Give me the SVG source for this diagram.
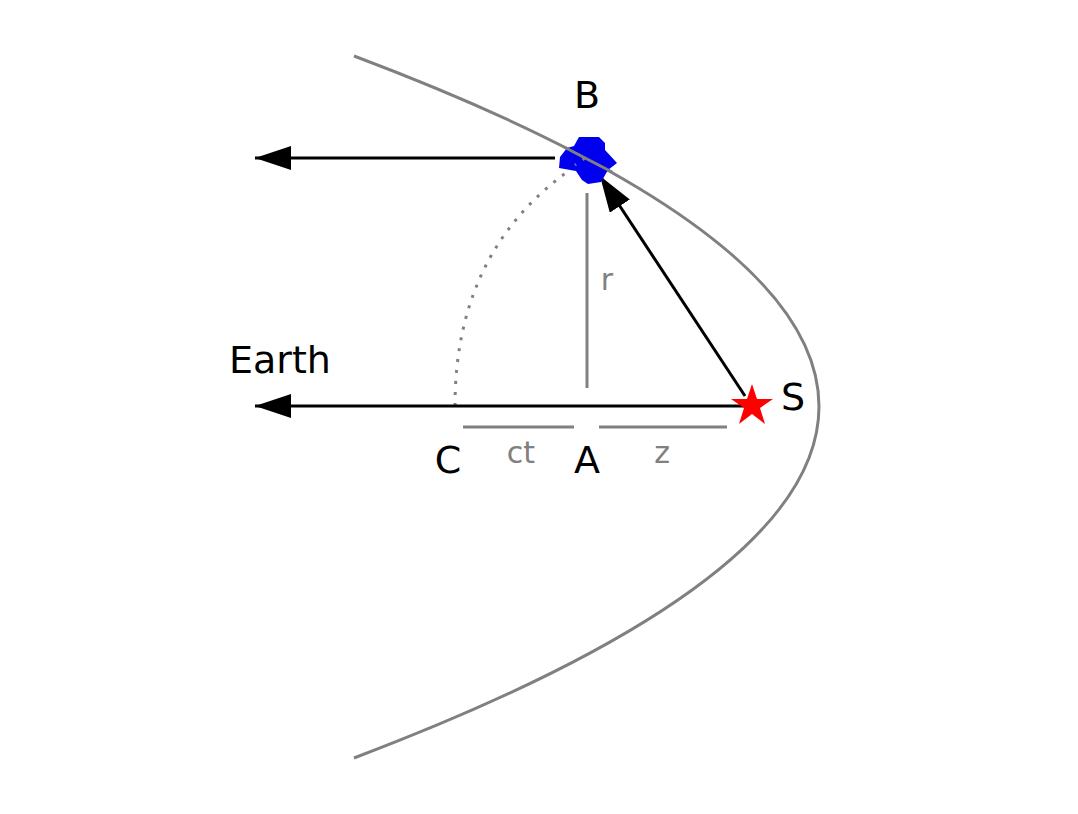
<svg xmlns="http://www.w3.org/2000/svg" width="1078" height="814" viewBox="0 0 1078 814">
<style>
.g{stroke:#808080;stroke-width:3;fill:none}
.k{stroke:#000;stroke-width:3;fill:none}
.t{font-family:"DejaVu Sans",sans-serif;font-size:38px;fill:#000;text-anchor:middle}
.s{font-family:"DejaVu Sans",sans-serif;font-size:30px;fill:#808080;text-anchor:middle}
</style>
<defs><marker id="a" viewBox="0 0 10 10" refX="0" refY="5" markerWidth="12" markerHeight="12" markerUnits="userSpaceOnUse" orient="auto"><path d="M10,0L0,5L10,10z" fill="#000"/></marker>
<marker id="h" viewBox="0 0 36 24" refX="36" refY="12" markerWidth="36" markerHeight="24" markerUnits="userSpaceOnUse" orient="auto"><path d="M0,0L36,12L0,24z" fill="#000"/></marker></defs>
<rect width="1078" height="814" fill="#fff"/>
<g id="connectors">
<path class="g" d="M354,56Q1284,406 354,758"/>
<path class="g" stroke-dasharray="3,8" d="M455,406Q455,240 588,158"/>
<line class="g" x1="587" y1="193" x2="587" y2="388"/>
<line class="g" x1="463" y1="427" x2="574" y2="427"/>
<line class="g" x1="599" y1="427" x2="727" y2="427"/>
<line class="k" x1="555" y1="158" x2="255" y2="158" marker-end="url(#h)"/>
<line class="k" x1="745" y1="406" x2="255" y2="406" marker-end="url(#h)"/>
<line class="k" x1="745" y1="396" x2="600" y2="176" marker-end="url(#h)"/>
</g>
<g id="B"><polygon points="579,137 599,137 605,143 605,150 617,163 608,170 601,182 588,184 582,180 576,171 559,168 560,157 567,148 574,146" fill="#0000ee"/>
<path class="g" d="M564,147L612,172"/>
<path class="g" stroke-dasharray="3,8" d="M585,158L575,165"/></g>
<g id="S"><polygon points="752,384 757,399 773,399 760,408 765,424 752,414 739,424 744,408 731,399 747,399" fill="#f00"/></g>
<g id="labels">
<text class="t" x="587" y="108">B</text>
<text class="t" x="280" y="373">Earth</text>
<text class="t" x="448" y="473">C</text>
<text class="t" x="587" y="473">A</text>
<text class="t" x="793" y="410">S</text>
<text class="s" x="607" y="290">r</text>
<text class="s" x="521" y="463">ct</text>
<text class="s" x="662" y="463">z</text>
</g>
</svg>
